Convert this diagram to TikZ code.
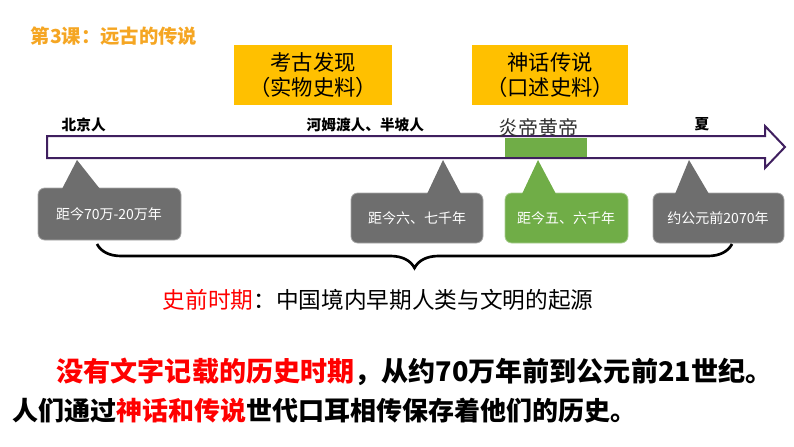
\documentclass[tikz,border=0pt]{standalone}
\usepackage{fontspec}
\setmainfont{Noto Sans CJK SC}
\usetikzlibrary{decorations.pathreplacing}
\definecolor{gold}{HTML}{FFC000}
\definecolor{ttl}{HTML}{F5A623}
\definecolor{pur}{HTML}{3F1F5F}
\definecolor{gbox}{HTML}{6E6E6E}
\definecolor{grn}{HTML}{70AD47}
\tikzset{
 goldbox/.style={fill=gold,align=center,font=\fontsize{16}{19}\selectfont,inner sep=0pt},
 callout/.style={fill=gbox,draw=gbox!60!white,line width=0.6pt,rounded corners=5pt},
 ctext/.style={text=white,font=\fontsize{10.5}{12}\selectfont},
 lbl/.style={font=\fontsize{11}{13}\selectfont\bfseries,anchor=west}
}
\begin{document}
\begin{tikzpicture}[x=0.75pt,y=-0.75pt]
\useasboundingbox (0,0) rectangle (794,447);
\node[anchor=west,text=ttl,font=\fontsize{14.5}{16}\selectfont\bfseries\itshape] (title) at (26,36) {第3课：远古的传说};
\node[goldbox,minimum width=118pt,minimum height=45pt] (kg) at (313,75) {考古发现\\（实物史料）};
\node[goldbox,minimum width=117pt,minimum height=45pt] (sh) at (550,75) {神话传说\\（口述史料）};
% arrow
\draw[pur,line width=1.5pt,fill=white,line join=miter] (47,136) -- (765,136) -- (765,126) -- (785,147) -- (765,168) -- (765,158) -- (47,158) -- cycle;
\fill[grn] (505,137.5) rectangle (587,156.5);
\node[lbl] (bj) at (57,125) {北京人};
\node[lbl] (hm) at (302,125) {河姆渡人、半坡人};
\node[anchor=west,font=\fontsize{15}{17}\selectfont,text=black!80] (yd) at (494,128) {炎帝黄帝};
\node[lbl] (xia) at (690,124) {夏};
% callouts
\draw[callout] (38,188) rectangle (181,240);
\fill[gbox] (62,189) -- (77,160) -- (100,189) -- cycle;
\node[ctext] (c1) at (109,214) {距今70万-20万年};
\draw[callout] (351,193) rectangle (483,243);
\fill[gbox] (427,194) -- (443,160) -- (461,194) -- cycle;
\node[ctext] (c2) at (417,218) {距今六、七千年};
\draw[callout,fill=grn,draw=grn!60!white] (505,193) rectangle (628,243);
\fill[grn] (522,194) -- (538,160) -- (556,194) -- cycle;
\node[ctext] (c3) at (566,218) {距今五、六千年};
\draw[callout] (653,193) rectangle (784,243);
\fill[gbox] (675,194) -- (689,160) -- (709,194) -- cycle;
\node[ctext] (c4) at (718,218) {约公元前2070年};
% brace
\draw[line width=2pt,decorate,decoration={brace,amplitude=18pt,mirror}] (97,244) -- (732,244);
\node[anchor=west,font=\fontsize{17}{20}\selectfont] (sq) at (158,300) {\textcolor{red}{史前时期}：中国境内早期人类与文明的起源};
\node[anchor=west,font=\fontsize{20.3}{24}\selectfont\bfseries] (l2) at (52,372) {\textcolor{red}{没有文字记载的历史时期}，从约70万年前到公元前21世纪。};
\node[anchor=west,font=\fontsize{19.5}{22}\selectfont\bfseries] (l3) at (8,411) {人们通过\textcolor{red}{神话和传说}世代口耳相传保存着他们的历史。};
\end{tikzpicture}
\end{document}
